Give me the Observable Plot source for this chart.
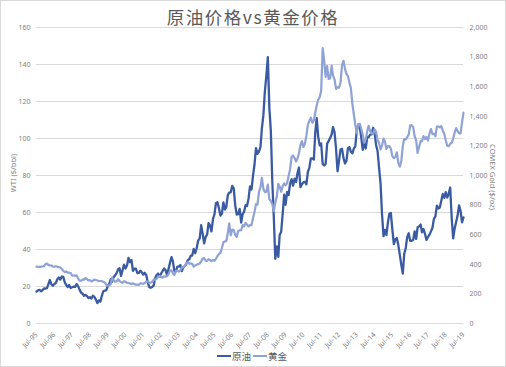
<!DOCTYPE html>
<html><head><meta charset="utf-8">
<script src="https://cdn.jsdelivr.net/npm/d3@7"></script>
<script src="https://cdn.jsdelivr.net/npm/@observablehq/plot@0.6"></script>
<style>
body{margin:0;background:#fff;font-family:"Noto Sans CJK SC","Noto Sans",sans-serif;}
#wrap{position:relative;width:506px;height:367px;overflow:hidden;background:#fff;}
#wrap svg{position:absolute;left:0;top:0;}
#border{position:absolute;left:0;top:0;width:504px;height:365px;border:1px solid #d9d9d9;pointer-events:none;}
#title{position:absolute;left:0;width:506px;top:6px;text-align:center;font-size:17.5px;line-height:22px;color:#595959;letter-spacing:1.5px;}
.ytitle{position:absolute;font-size:7.5px;color:#7f7f7f;white-space:nowrap;font-family:"Noto Sans",sans-serif;}
#legend{position:absolute;left:0;width:506px;top:349px;display:flex;justify-content:center;align-items:center;font-size:9.5px;color:#595959;}
#legend span.sw{display:inline-block;width:14px;height:2px;margin-right:1px;}
#legend span.lb{margin-right:2px;}
</style></head>
<body>
<div id="wrap">
  <div id="title">原油价格vs黄金价格</div>
  <div class="ytitle" id="lt" style="left:-6px;top:168px;transform:rotate(-90deg);">WTI ($/bbl)</div>
  <div class="ytitle" id="rt" style="left:460px;top:172px;transform:rotate(90deg);">COMEX Gold ($/oz)</div>
  <div id="legend"></div>
  <div id="border"></div>
</div>
<script>
// series: monthly, July 1995 .. July 2019
const startMonth = "1995-07-01";
const seriesNames = ["原油", "黄金"];
const seriesColors = ["#3a5ba2", "#8fa2d6"];
const oilValues = [
 17.3,17.9,18.2,17.4,18.0,19.0,
 18.9,19.1,21.3,23.5,21.2,20.4,21.3,21.9,23.9,24.9,23.7,25.4,
 25.2,22.2,20.9,19.7,20.8,19.2,19.6,19.9,19.8,21.3,20.2,18.3,
 16.7,16.1,15.0,15.4,14.9,13.7,14.2,13.5,15.0,14.4,12.9,11.0,
 12.5,11.8,14.7,17.3,17.8,17.9,20.1,21.3,23.9,22.6,25.0,26.1,
 27.2,29.4,29.9,25.7,28.8,31.8,29.7,31.3,35.5,33.1,34.4,28.5,
 29.6,29.6,27.2,27.4,28.6,27.6,26.4,27.4,26.2,22.2,19.6,19.3,
 19.7,20.7,24.5,26.2,27.0,25.5,26.9,28.4,29.7,28.9,26.3,29.4,
 32.9,35.9,33.6,28.3,28.1,30.7,30.8,31.6,28.3,30.3,31.1,32.1,
 34.3,34.7,36.7,36.7,40.3,38.0,40.7,44.9,45.9,53.1,48.5,43.3,
 46.8,48.0,54.3,53.0,49.8,56.4,59.0,65.0,65.6,62.3,58.3,59.4,
 65.5,61.6,62.9,69.4,70.8,70.9,74.4,73.0,63.8,58.9,59.1,62.0,
 54.5,59.3,60.4,63.9,63.5,67.5,74.1,72.4,79.9,85.8,94.8,91.7,
 92.9,95.4,105.5,112.6,125.4,134.0,144.0,116.7,104.1,76.6,57.3,35.0,
 41.7,36.0,47.9,49.6,59.0,69.6,64.2,71.1,69.4,75.7,78.0,74.5,
 78.3,76.4,81.2,84.3,73.7,75.3,76.3,76.6,75.2,81.9,84.3,89.2,
 89.2,88.6,102.9,111.0,100.9,96.3,97.3,86.3,85.5,86.3,97.2,98.6,
 100.3,102.2,106.2,103.3,94.7,82.3,87.9,94.1,94.5,89.5,86.5,87.9,
 94.8,95.3,92.9,92.0,94.5,95.8,104.6,107.5,106.3,100.5,93.9,97.6,
 94.6,100.8,100.8,102.1,102.2,105.8,103.6,96.5,93.2,84.4,75.8,59.3,
 47.2,50.6,47.8,54.5,59.3,59.8,50.9,42.9,45.5,46.2,42.4,37.2,
 31.7,27.0,37.6,40.8,46.7,48.8,44.7,44.7,45.2,49.8,45.7,52.0,
 52.5,53.5,49.3,51.1,48.5,45.2,46.6,48.0,49.8,51.6,56.6,57.9,
 63.7,62.2,62.7,66.3,70.0,67.9,71.0,68.1,70.2,73.5,57.0,46.0,
 51.4,55.0,58.2,63.9,60.8,54.7,57.4
];
const goldValues = [
 384,383,383,383,386,387,
 400,405,396,393,392,385,383,387,383,381,378,369,
 355,347,352,344,344,341,324,324,323,325,306,289,
 289,297,296,308,299,292,293,284,289,296,294,291,
 287,287,286,282,277,262,256,257,265,311,293,283,
 285,300,286,280,275,286,282,275,274,270,266,272,
 266,262,263,261,272,270,268,273,283,283,276,276,
 282,296,294,303,314,321,314,310,319,317,319,333,
 357,359,340,328,355,356,351,360,379,379,389,407,
 414,405,406,404,384,392,398,401,405,420,439,442,
 424,423,434,429,422,430,424,437,456,470,476,510,
 549,555,557,610,676,596,634,632,598,585,627,629,
 631,665,655,680,667,656,665,665,713,754,806,803,
 889,922,985,909,888,890,939,839,830,806,760,816,
 858,943,925,890,928,946,934,949,996,1043,1127,1135,
 1118,1095,1114,1149,1205,1233,1193,1215,1271,1342,1370,1391,
 1356,1372,1424,1474,1512,1529,1572,1860,1780,1666,1739,1652,
 1656,1742,1673,1650,1585,1596,1594,1626,1745,1775,1722,1685,
 1671,1627,1593,1487,1414,1343,1286,1347,1349,1316,1275,1221,
 1244,1300,1336,1299,1287,1279,1311,1296,1238,1222,1176,1200,
 1250,1227,1179,1198,1199,1181,1131,1117,1125,1157,1086,1060,
 1097,1199,1246,1243,1259,1276,1337,1340,1326,1266,1236,1152,
 1192,1234,1231,1266,1246,1260,1236,1283,1314,1280,1282,1265,
 1331,1331,1325,1334,1303,1282,1238,1202,1198,1215,1221,1250,
 1291,1320,1300,1285,1284,1359,1425
];
const oilTicks = [0,20,40,60,80,100,120,140,160];
const goldTicks = [0,200,400,600,800,1000,1200,1400,1600,1800,2000];
const xTickLabels = ["Jul-95","Jul-96","Jul-97","Jul-98","Jul-99","Jul-00","Jul-01","Jul-02","Jul-03","Jul-04","Jul-05","Jul-06","Jul-07","Jul-08","Jul-09","Jul-10","Jul-11","Jul-12","Jul-13","Jul-14","Jul-15","Jul-16","Jul-17","Jul-18","Jul-19"];

const goldPerOil = 2000 / 160; // right axis 0–2000 aligned with left 0–160
const t0 = new Date(startMonth + "T00:00:00Z");
const oil = oilValues.map((v, i) => ({date: d3.utcMonth.offset(t0, i), v}));
const gold = goldValues.map((v, i) => ({date: d3.utcMonth.offset(t0, i), v}));
const xTicks = xTickLabels.map((s, i) => d3.utcYear.offset(t0, i));

const chart = Plot.plot({
  width: 506, height: 367,
  marginLeft: 36, marginRight: 43, marginTop: 27, marginBottom: 44,
  style: {fontFamily: "'Noto Sans','DejaVu Sans',sans-serif", fontSize: "7px", color: "#7f7f7f", background: "transparent", overflow: "visible"},
  x: {type: "utc", domain: [t0, xTicks[xTicks.length - 1]]},
  y: {domain: [0, 160]},
  marks: [
    Plot.gridY(oilTicks, {stroke: "#d9d9d9", strokeOpacity: 1, strokeWidth: 1}),
    Plot.axisY(oilTicks, {anchor: "left", tickSize: 0, tickPadding: 6, label: null}),
    Plot.axisY(goldTicks.map(g => g / goldPerOil), {anchor: "right", tickSize: 0, tickPadding: 6, label: null,
      tickFormat: (d, i) => d3.format(",")(goldTicks[i])}),
    Plot.axisX(xTicks, {anchor: "bottom", tickSize: 0, tickPadding: 10, tickRotate: -45, label: null,
      tickFormat: (d, i) => xTickLabels[i]}),
    Plot.line(oil, {x: "date", y: "v", stroke: seriesColors[0], strokeWidth: 2.3, curve: "linear"}),
    Plot.line(gold, {x: "date", y: d => d.v / goldPerOil, stroke: seriesColors[1], strokeWidth: 2.2, curve: "linear"})
  ]
});
document.getElementById("wrap").insertBefore(chart, document.getElementById("title"));

const legend = document.getElementById("legend");
seriesNames.forEach((n, i) => {
  const sw = document.createElement("span"); sw.className = "sw"; sw.style.background = seriesColors[i];
  const lb = document.createElement("span"); lb.className = "lb"; lb.textContent = n;
  legend.appendChild(sw); legend.appendChild(lb);
});
</script>
</body></html>
